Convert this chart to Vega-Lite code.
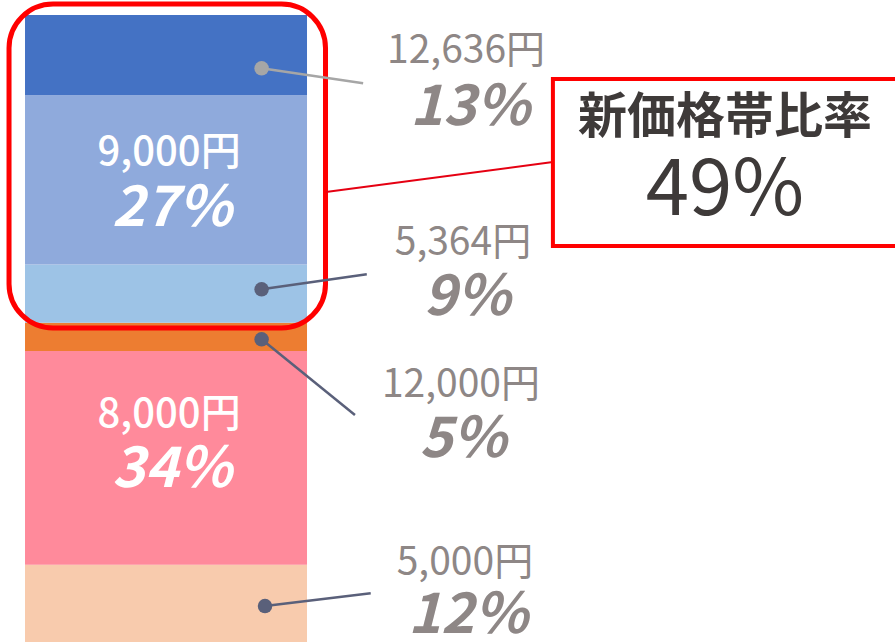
{
  "$schema": "https://vega.github.io/schema/vega-lite/v6.json",
  "width": 895,
  "height": 643,
  "autosize": {"type": "none"},
  "padding": 0,
  "background": "white",
  "config": {"view": {"stroke": null}, "font": "Noto Sans CJK JP"},
  "datasets": {
    "segments": [
      {"price": "5,000円", "share": "12%", "pct": 12.3, "rank": 1},
      {"price": "8,000円", "share": "34%", "pct": 34.1, "rank": 2},
      {"price": "12,000円", "share": "5%", "pct": 4.5, "rank": 3},
      {"price": "5,364円", "share": "9%", "pct": 9.3, "rank": 4},
      {"price": "9,000円", "share": "27%", "pct": 27.0, "rank": 5},
      {"price": "12,636円", "share": "13%", "pct": 12.8, "rank": 6}
    ],
    "labels": [
      {"text": "9,000円", "role": "in_price", "x": 0.511, "y": 78.0},
      {"text": "27%", "role": "in_pct", "x": 0.521, "y": 69.0},
      {"text": "8,000円", "role": "in_price", "x": 0.511, "y": 36.2},
      {"text": "34%", "role": "in_pct", "x": 0.521, "y": 27.4},
      {"text": "12,636円", "role": "out_price", "x": 1.564, "y": 94.2},
      {"text": "13%", "role": "out_pct", "x": 1.578, "y": 85.2},
      {"text": "5,364円", "role": "out_price", "x": 1.553, "y": 63.6},
      {"text": "9%", "role": "out_pct", "x": 1.567, "y": 54.8},
      {"text": "12,000円", "role": "out_price", "x": 1.546, "y": 41.0},
      {"text": "5%", "role": "out_pct", "x": 1.553, "y": 32.2},
      {"text": "5,000円", "role": "out_price", "x": 1.56, "y": 12.6},
      {"text": "12%", "role": "out_pct", "x": 1.571, "y": 4.1},
      {"text": "新価格帯比率", "role": "title", "x": 2.482, "y": 83.5},
      {"text": "49%", "role": "value", "x": 2.482, "y": 71.8}
    ],
    "leaders": [
      {"price": "12,636円", "x": 0.839, "y": 91.5, "x2": 1.199, "y2": 89.11},
      {"price": "5,364円", "x": 0.839, "y": 56.25, "x2": 1.212, "y2": 58.64},
      {"price": "12,000円", "x": 0.839, "y": 48.28, "x2": 1.17, "y2": 36.2},
      {"price": "5,000円", "x": 0.851, "y": 5.74, "x2": 1.226, "y2": 7.77}
    ],
    "highlight": [{"x": -0.0567, "x2": 1.0656, "y": 101.75, "y2": 50.08}],
    "connector": [{"x": 1.067, "y": 71.77, "x2": 1.872, "y2": 76.56}],
    "box": [{"x": 1.872, "x2": 3.3, "y": 89.79, "y2": 63.16}]
  },
  "layer": [
    {
      "data": {"name": "segments"},
      "transform": [
        {"stack": "pct", "groupby": [], "sort": [{"field": "rank", "order": "ascending"}], "as": ["y0", "y1"]}
      ],
      "mark": {"type": "rect"},
      "encoding": {
        "x": {"datum": 0, "type": "quantitative", "scale": {"domain": [-0.0887, 3.0851], "nice": false, "zero": false}, "axis": null},
        "x2": {"datum": 1},
        "y": {"field": "y0", "type": "quantitative", "scale": {"domain": [-0.16, 102.39], "nice": false, "zero": false}, "axis": null},
        "y2": {"field": "y1"},
        "color": {
          "field": "price", "type": "nominal", "legend": null,
          "scale": {
            "domain": ["5,000円", "8,000円", "12,000円", "5,364円", "9,000円", "12,636円"],
            "range": ["#F8CBAD", "#FF8A9B", "#ED7D31", "#9DC3E6", "#8FAADC", "#4472C4"]
          }
        }
      }
    },
    {
      "data": {"name": "highlight"},
      "mark": {"type": "rect", "fill": null, "filled": false, "stroke": "#FF0000", "strokeWidth": 5, "cornerRadius": 44},
      "encoding": {
        "x": {"field": "x", "type": "quantitative", "scale": {"domain": [-0.0887, 3.0851], "nice": false, "zero": false}, "axis": null},
        "x2": {"field": "x2"},
        "y": {"field": "y", "type": "quantitative", "scale": {"domain": [-0.16, 102.39], "nice": false, "zero": false}, "axis": null},
        "y2": {"field": "y2"}
      }
    },
    {
      "data": {"name": "connector"},
      "mark": {"type": "rule", "color": "#E50012", "strokeWidth": 2},
      "encoding": {
        "x": {"field": "x", "type": "quantitative", "scale": {"domain": [-0.0887, 3.0851], "nice": false, "zero": false}, "axis": null},
        "x2": {"field": "x2"},
        "y": {"field": "y", "type": "quantitative", "scale": {"domain": [-0.16, 102.39], "nice": false, "zero": false}, "axis": null},
        "y2": {"field": "y2"}
      }
    },
    {
      "data": {"name": "box"},
      "mark": {"type": "rect", "fill": "white", "stroke": "#FF0000", "strokeWidth": 4},
      "encoding": {
        "x": {"field": "x", "type": "quantitative", "scale": {"domain": [-0.0887, 3.0851], "nice": false, "zero": false}, "axis": null},
        "x2": {"field": "x2"},
        "y": {"field": "y", "type": "quantitative", "scale": {"domain": [-0.16, 102.39], "nice": false, "zero": false}, "axis": null},
        "y2": {"field": "y2"}
      }
    },
    {
      "data": {"name": "leaders"},
      "mark": {"type": "rule", "strokeWidth": 2.5},
      "encoding": {
        "x": {"field": "x", "type": "quantitative", "scale": {"domain": [-0.0887, 3.0851], "nice": false, "zero": false}, "axis": null},
        "x2": {"field": "x2"},
        "y": {"field": "y", "type": "quantitative", "scale": {"domain": [-0.16, 102.39], "nice": false, "zero": false}, "axis": null},
        "y2": {"field": "y2"},
        "stroke": {
          "field": "price", "type": "nominal", "legend": null,
          "scale": {"domain": ["12,636円", "5,364円", "12,000円", "5,000円"], "range": ["#A6A6A6", "#5A607A", "#5A607A", "#5A607A"]}
        }
      }
    },
    {
      "data": {"name": "leaders"},
      "mark": {"type": "circle", "size": 210, "opacity": 1},
      "encoding": {
        "x": {"field": "x", "type": "quantitative", "scale": {"domain": [-0.0887, 3.0851], "nice": false, "zero": false}, "axis": null},
        "y": {"field": "y", "type": "quantitative", "scale": {"domain": [-0.16, 102.39], "nice": false, "zero": false}, "axis": null},
        "fill": {
          "field": "price", "type": "nominal", "legend": null,
          "scale": {"domain": ["12,636円", "5,364円", "12,000円", "5,000円"], "range": ["#A6A6A6", "#5A607A", "#5A607A", "#5A607A"]}
        }
      }
    },
    {
      "data": {"name": "labels"},
      "transform": [{"filter": "datum.role === 'in_price'"}],
      "mark": {"type": "text", "fontSize": 40, "fontWeight": 500, "color": "white", "align": "center", "baseline": "middle"},
      "encoding": {
        "x": {"field": "x", "type": "quantitative", "scale": {"domain": [-0.0887, 3.0851], "nice": false, "zero": false}, "axis": null},
        "y": {"field": "y", "type": "quantitative", "scale": {"domain": [-0.16, 102.39], "nice": false, "zero": false}, "axis": null},
        "text": {"field": "text"}
      }
    },
    {
      "data": {"name": "labels"},
      "transform": [{"filter": "datum.role === 'in_pct'"}],
      "mark": {"type": "text", "fontSize": 56, "fontWeight": "bold", "fontStyle": "italic", "color": "white", "align": "center", "baseline": "middle"},
      "encoding": {
        "x": {"field": "x", "type": "quantitative", "scale": {"domain": [-0.0887, 3.0851], "nice": false, "zero": false}, "axis": null},
        "y": {"field": "y", "type": "quantitative", "scale": {"domain": [-0.16, 102.39], "nice": false, "zero": false}, "axis": null},
        "text": {"field": "text"}
      }
    },
    {
      "data": {"name": "labels"},
      "transform": [{"filter": "datum.role === 'out_price'"}],
      "mark": {"type": "text", "fontSize": 39, "color": "#8E8786", "align": "center", "baseline": "middle"},
      "encoding": {
        "x": {"field": "x", "type": "quantitative", "scale": {"domain": [-0.0887, 3.0851], "nice": false, "zero": false}, "axis": null},
        "y": {"field": "y", "type": "quantitative", "scale": {"domain": [-0.16, 102.39], "nice": false, "zero": false}, "axis": null},
        "text": {"field": "text"}
      }
    },
    {
      "data": {"name": "labels"},
      "transform": [{"filter": "datum.role === 'out_pct'"}],
      "mark": {"type": "text", "fontSize": 56, "fontWeight": "bold", "fontStyle": "italic", "color": "#8E8786", "align": "center", "baseline": "middle"},
      "encoding": {
        "x": {"field": "x", "type": "quantitative", "scale": {"domain": [-0.0887, 3.0851], "nice": false, "zero": false}, "axis": null},
        "y": {"field": "y", "type": "quantitative", "scale": {"domain": [-0.16, 102.39], "nice": false, "zero": false}, "axis": null},
        "text": {"field": "text"}
      }
    },
    {
      "data": {"name": "labels"},
      "transform": [{"filter": "datum.role === 'title'"}],
      "mark": {"type": "text", "fontSize": 49, "fontWeight": "bold", "color": "#3E3A39", "align": "center", "baseline": "middle"},
      "encoding": {
        "x": {"field": "x", "type": "quantitative", "scale": {"domain": [-0.0887, 3.0851], "nice": false, "zero": false}, "axis": null},
        "y": {"field": "y", "type": "quantitative", "scale": {"domain": [-0.16, 102.39], "nice": false, "zero": false}, "axis": null},
        "text": {"field": "text"}
      }
    },
    {
      "data": {"name": "labels"},
      "transform": [{"filter": "datum.role === 'value'"}],
      "mark": {"type": "text", "fontSize": 78, "color": "#3E3A39", "align": "center", "baseline": "middle"},
      "encoding": {
        "x": {"field": "x", "type": "quantitative", "scale": {"domain": [-0.0887, 3.0851], "nice": false, "zero": false}, "axis": null},
        "y": {"field": "y", "type": "quantitative", "scale": {"domain": [-0.16, 102.39], "nice": false, "zero": false}, "axis": null},
        "text": {"field": "text"}
      }
    }
  ]
}
